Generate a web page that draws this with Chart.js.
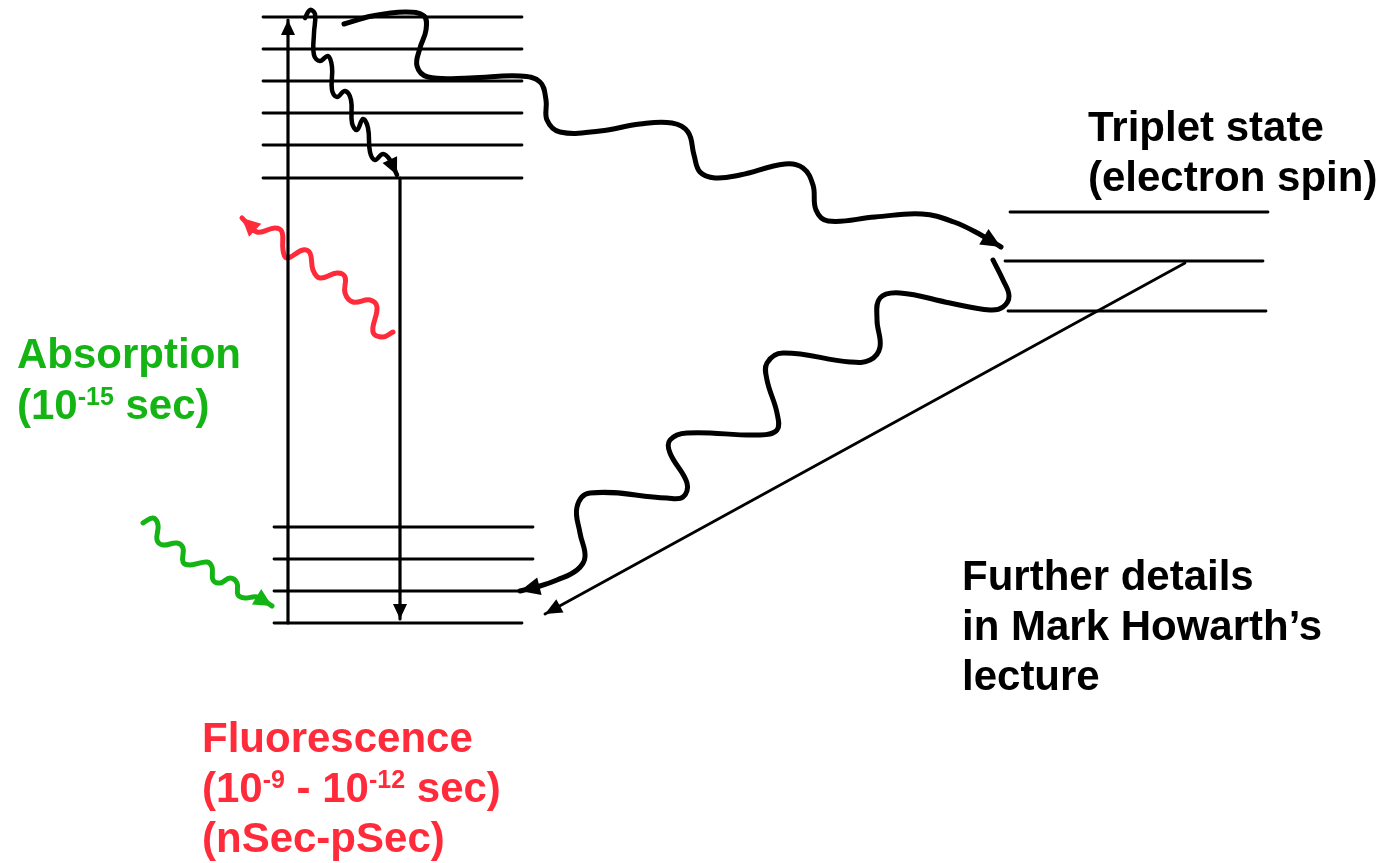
<!DOCTYPE html>
<html>
<head>
<meta charset="utf-8">
<script src="https://cdn.jsdelivr.net/npm/chart.js@4/dist/chart.umd.min.js"></script>
<style>
  html, body { margin: 0; padding: 0; background: #fff; }
  #chart { display: block; }
</style>
</head>
<body>
<canvas id="chart" width="1389" height="863"></canvas>
<script>
// diagram space == picture space (x right, y down)
var W = 1389, H = 863;

var GREEN = '#14b414';
var RED = '#ff2a3a';
var BLACK = '#000';

// energy levels
var singletLevelsY = [17, 49, 81, 113, 145, 178];
var singletX = [263, 522];
var groundLevelsY = [527, 559, 591, 623];
var groundEndX = [533, 533, 522, 522];
var groundStartX = 274;
var tripletLevelsY = [212, 261, 311];
var tripletStartX = [1010, 1005, 1008];
var tripletEndX = [1268, 1263, 1266];

// straight transitions
var absorptionArrow = [[288, 623], [288, 20]];
var fluorescenceArrow = [[400, 178], [400, 619]];
var phosphorescenceArrow = [[1185, 263], [545, 614]];

// wavy transitions
var internalConversion = [[305, 18], [310, 10], [315, 14], [314, 33], [314, 55], [320, 61], [328, 56],
  [332, 67], [332, 90], [337, 97], [345, 91], [351, 100], [352, 123], [357, 130], [363, 119],
  [368, 128], [370, 152], [375, 160], [383, 154], [390, 160], [397, 175]];

var intersystemCrossing = [[344, 24], [372, 16], [405, 12], [424, 16], [426, 30], [420, 48],
  [417, 66], [428, 77], [470, 78], [520, 76], [540, 82], [546, 100], [547, 120], [560, 132],
  [600, 131], [640, 124], [672, 123], [688, 132], [694, 155], [700, 172], [715, 178],
  [740, 175], [785, 164], [803, 168], [813, 185], [816, 210], [828, 221], [875, 217],
  [922, 214], [954, 222], [981, 235], [1001, 247]];

var reverseCrossing = [[993, 260], [1003, 280], [1009, 296], [1003, 307], [990, 310],
  [950, 303], [900, 293], [880, 298], [877, 320], [880, 347], [870, 360], [850, 362],
  [783, 353], [767, 363], [767, 380], [777, 413], [777, 430], [760, 435], [687, 433],
  [670, 440], [670, 453], [687, 483], [683, 497], [667, 498], [590, 493], [577, 507],
  [580, 533], [585, 557], [577, 570], [557, 580], [540, 586], [520, 591]];

var emittedPhoton = [[393, 332], [383, 337], [373, 332], [377, 307], [370, 300], [353, 302],
  [345, 293], [345, 277], [337, 273], [320, 278], [313, 270], [310, 253], [303, 250],
  [287, 258], [283, 250], [282, 232], [275, 228], [257, 232], [242, 218]];

var absorbedPhoton = [[143, 523], [153, 518], [158, 525], [157, 540], [163, 545], [177, 543],
  [183, 548], [183, 562], [190, 565], [207, 562], [212, 567], [213, 580], [220, 583],
  [230, 578], [237, 583], [238, 595], [245, 598], [257, 597], [272, 606]];

// labels: each line is a list of [text, isSuperscript]
var labelLines = [
  { x: 17, y: 368, color: GREEN, parts: [['Absorption', false]] },
  { x: 17, y: 419, color: GREEN, parts: [['(10', false], ['-15', true], [' sec)', false]] },
  { x: 202, y: 752, color: RED, parts: [['Fluorescence', false]] },
  { x: 202, y: 802, color: RED, parts: [['(10', false], ['-9', true], [' - 10', false], ['-12', true], [' sec)', false]] },
  { x: 202, y: 852, color: RED, parts: [['(nSec-pSec)', false]] },
  { x: 1088, y: 141, color: BLACK, parts: [['Triplet state', false]] },
  { x: 1088, y: 191, color: BLACK, parts: [['(electron spin)', false]] },
  { x: 962, y: 590, color: BLACK, parts: [['Further details', false]] },
  { x: 962, y: 640, color: BLACK, parts: [['in Mark Howarth\u2019s', false]] },
  { x: 962, y: 690, color: BLACK, parts: [['lecture', false]] }
];

function pts(list) {
  return list.map(function(p) { return { x: p[0], y: p[1] }; });
}

function lineSet(list, color, width, arrow, tension) {
  return {
    data: pts(list),
    showLine: true,
    borderColor: color,
    borderWidth: width,
    pointRadius: 0,
    tension: tension || 0,
    borderCapStyle: 'round',
    borderJoinStyle: 'round',
    clip: false,
    arrow: arrow || null
  };
}

var datasets = [];

singletLevelsY.forEach(function(y) {
  datasets.push(lineSet([[singletX[0], y], [singletX[1], y]], BLACK, 2.8));
});
groundLevelsY.forEach(function(y, i) {
  datasets.push(lineSet([[groundStartX, y], [groundEndX[i], y]], BLACK, 2.8));
});
tripletLevelsY.forEach(function(y, i) {
  datasets.push(lineSet([[tripletStartX[i], y], [tripletEndX[i], y]], BLACK, 2.8));
});

datasets.push(lineSet(absorptionArrow, BLACK, 3.2, { len: 15, half: 7 }));
datasets.push(lineSet(fluorescenceArrow, BLACK, 3.2, { len: 15, half: 7 }));
datasets.push(lineSet(phosphorescenceArrow, BLACK, 2.8, { len: 17, half: 7.5 }));
datasets.push(lineSet(internalConversion, BLACK, 4.5, { len: 17, half: 8 }, 0.4));
datasets.push(lineSet(intersystemCrossing, BLACK, 5, { len: 20, half: 9 }, 0.4));
datasets.push(lineSet(reverseCrossing, BLACK, 5, { len: 20, half: 9 }, 0.4));
datasets.push(lineSet(emittedPhoton, RED, 5, { len: 18, half: 9 }, 0.4));
datasets.push(lineSet(absorbedPhoton, GREEN, 5, { len: 18, half: 9 }, 0.4));

// arrowheads on the last point of a dataset
var arrowPlugin = {
  id: 'arrowheads',
  afterDatasetsDraw: function(chart) {
    var ctx = chart.ctx;
    chart.data.datasets.forEach(function(ds, i) {
      if (!ds.arrow) return;
      var els = chart.getDatasetMeta(i).data;
      var tip = els[els.length - 1];
      var prev = els[els.length - 2];
      var ang = Math.atan2(tip.y - prev.y, tip.x - prev.x);
      var L = ds.arrow.len, h = ds.arrow.half;
      ctx.save();
      ctx.translate(tip.x, tip.y);
      ctx.rotate(ang);
      ctx.fillStyle = ds.borderColor;
      ctx.beginPath();
      ctx.moveTo(0, 0);
      ctx.lineTo(-L, -h);
      ctx.lineTo(-L, h);
      ctx.closePath();
      ctx.fill();
      ctx.restore();
    });
  }
};

var labelPlugin = {
  id: 'labels',
  afterDraw: function(chart) {
    var ctx = chart.ctx;
    var xs = chart.scales.x, ys = chart.scales.y;
    ctx.save();
    ctx.textBaseline = 'alphabetic';
    ctx.textAlign = 'left';
    labelLines.forEach(function(l) {
      var x = xs.getPixelForValue(l.x);
      var y = ys.getPixelForValue(l.y);
      ctx.fillStyle = l.color;
      l.parts.forEach(function(p) {
        if (p[1]) {
          ctx.font = 'bold 25px "Liberation Sans", Arial, sans-serif';
          ctx.fillText(p[0], x, y - 14);
        } else {
          ctx.font = 'bold 42px "Liberation Sans", Arial, sans-serif';
          ctx.fillText(p[0], x, y);
        }
        x += ctx.measureText(p[0]).width;
      });
    });
    ctx.restore();
  }
};

new Chart(document.getElementById('chart'), {
  type: 'scatter',
  data: { datasets: datasets },
  options: {
    responsive: false,
    animation: false,
    layout: { padding: 0 },
    plugins: { legend: { display: false }, tooltip: { enabled: false } },
    scales: {
      x: { type: 'linear', min: 0, max: W, display: false },
      y: { type: 'linear', min: 0, max: H, reverse: true, display: false }
    }
  },
  plugins: [arrowPlugin, labelPlugin]
});
</script>
</body>
</html>
